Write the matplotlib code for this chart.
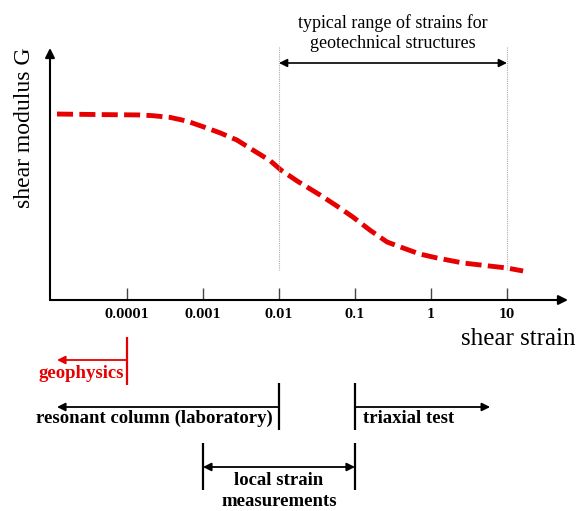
import numpy as np
import matplotlib.pyplot as plt
from matplotlib import transforms
from matplotlib.ticker import NullLocator

# G degradation curve (strain in %, G normalised to plateau)
strain = [1.2e-5, 4.4e-5, 1.48e-4, 2.2e-4, 3.68e-4, 6.15e-4, 1.0e-3, 1.67e-3,
          2.8e-3, 4.55e-3, 7.6e-3, 1.06e-2, 1.73e-2, 3.46e-2, 5.8e-2, 9.4e-2,
          0.157, 0.264, 0.428, 0.716, 1.2, 2.64, 10.0, 16.3]
G = [1.0, 0.997, 0.995, 0.991, 0.982, 0.962, 0.932, 0.899,
     0.860, 0.806, 0.750, 0.699, 0.640, 0.565, 0.505, 0.446,
     0.376, 0.312, 0.280, 0.247, 0.226, 0.199, 0.172, 0.156]

tick_values = [1e-4, 1e-3, 1e-2, 1e-1, 1, 10]
tick_labels = ['0.0001', '0.001', '0.01', '0.1', '1', '10']

# strain ranges of the test methods
typical_range = [0.01, 10]
geophysics_range = [1.2e-5, 1e-4]
resonant_range = [1.2e-5, 0.01]
triaxial_range = [0.1, 6.0]
local_range = [0.001, 0.1]

W, H = 576, 511
RED = '#e60000'
SERIF = 'Liberation Serif'

fig = plt.figure(figsize=(W / 100, H / 100), dpi=100)
ax = fig.add_axes([50 / W, (H - 300) / H, 518 / W, 252 / H])


def fy(py):
    # pixel row of the figure -> axes fraction
    return (300 - py) / 252


trans = transforms.blended_transform_factory(ax.transData, ax.transAxes)

ax.set_xscale('log')
ax.set_xlim(10 ** -5.013, 10 ** 1.803)
ax.set_ylim(0, 1.355)
for s in ax.spines.values():
    s.set_visible(False)
ax.set_yticks([])
ax.set_xticks(tick_values)
ax.set_xticklabels(tick_labels, fontfamily='DejaVu Serif', fontweight='bold', fontsize=8.5)
ax.xaxis.set_minor_locator(NullLocator())
ax.tick_params(axis='x', direction='in', length=8.6, width=1, color='#444444', pad=6)

# axes with arrow heads
arrow_kw = dict(arrowstyle='-|>', lw=1.5, color='black', mutation_scale=14, shrinkA=0, shrinkB=0)
ax.annotate('', xy=(1, 0), xytext=(0, 0), xycoords='axes fraction', arrowprops=arrow_kw)
ax.annotate('', xy=(0, 1), xytext=(0, 0), xycoords='axes fraction', arrowprops=arrow_kw)

# degradation curve
ax.plot(strain, G, color=RED, lw=3.5, dashes=(3.3, 1.3), dash_capstyle='butt')

# typical range of geotechnical structures
for xv in typical_range:
    ax.plot([xv, xv], [fy(47), fy(270)], transform=trans, color='#aaaaaa', lw=0.8,
            ls=(0, (1, 1)), clip_on=False)
ax.annotate('', xy=(typical_range[1], fy(63)), xytext=(typical_range[0], fy(63)),
            xycoords=trans, annotation_clip=False,
            arrowprops=dict(arrowstyle='<|-|>', lw=1.2, color='black', mutation_scale=12,
                            shrinkA=0, shrinkB=0))
ax.text(np.sqrt(typical_range[0] * typical_range[1]), fy(33),
        'typical range of strains for\ngeotechnical structures', transform=trans,
        ha='center', va='center', fontsize=13, family=SERIF, linespacing=1.25, clip_on=False)

fig.text(25 / W, (H - 128) / H, 'shear modulus G', rotation=90, ha='center', va='center',
         fontsize=17, family=SERIF)
fig.text(461 / W, (H - 339) / H, 'shear strain', ha='left', va='center', fontsize=18,
         family=SERIF)


def bar(xv, top, bottom, color='black'):
    ax.plot([xv, xv], [fy(top), fy(bottom)], transform=trans, color=color, lw=1.6,
            clip_on=False, solid_capstyle='butt')


def range_arrow(start, end, py, color='black', style='-|>'):
    ax.annotate('', xy=(end, fy(py)), xytext=(start, fy(py)), xycoords=trans,
                annotation_clip=False,
                arrowprops=dict(arrowstyle=style, lw=1.3, color=color, mutation_scale=12,
                                shrinkA=0, shrinkB=0))


def label(text, xv, py, dx, ha, color='black'):
    ax.annotate(text, xy=(xv, fy(py)), xycoords=trans, xytext=(dx, 0),
                textcoords='offset pixels', ha=ha, va='center', color=color,
                fontsize=13.5, fontweight='bold', family=SERIF, annotation_clip=False,
                linespacing=1.25)


# geophysics
bar(geophysics_range[1], 337, 385, RED)
range_arrow(geophysics_range[1], geophysics_range[0], 360, RED)
label('geophysics', geophysics_range[1], 373, -3, 'right', RED)

# resonant column
bar(resonant_range[1], 383, 430)
range_arrow(resonant_range[1], resonant_range[0], 407)
label('resonant column (laboratory)', resonant_range[1], 418, -6, 'right')

# triaxial test
bar(triaxial_range[0], 383, 430)
range_arrow(triaxial_range[0], triaxial_range[1], 407)
label('triaxial test', triaxial_range[0], 418, 8, 'left')

# local strain measurements
bar(local_range[0], 443, 490)
bar(local_range[1], 443, 490)
range_arrow(local_range[0], local_range[1], 467, style='<|-|>')
label('local strain\nmeasurements', np.sqrt(local_range[0] * local_range[1]), 491, 0, 'center')

fig.savefig('out.png', dpi=100)
